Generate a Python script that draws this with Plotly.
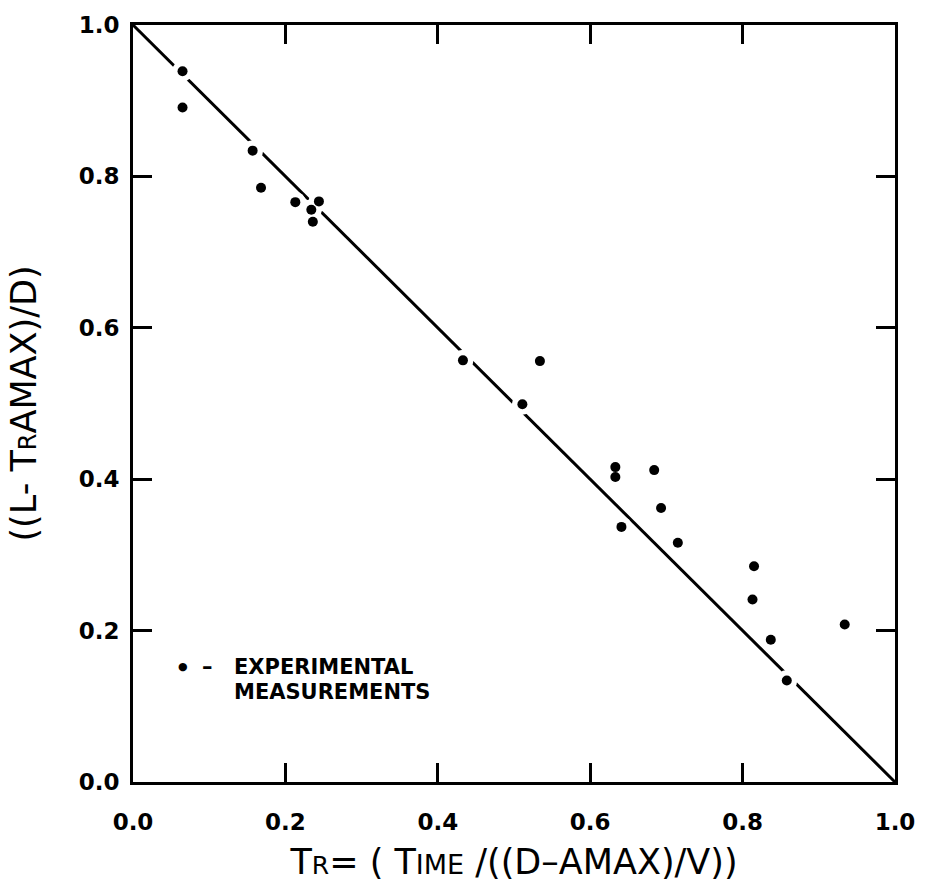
import plotly.graph_objects as go

tr_meas = [0.065, 0.065, 0.157, 0.168, 0.213, 0.234, 0.236, 0.244,
           0.433, 0.511, 0.534, 0.633, 0.633, 0.641, 0.684, 0.693,
           0.715, 0.813, 0.815, 0.837, 0.858, 0.934]
y_meas = [0.939, 0.891, 0.834, 0.785, 0.766, 0.756, 0.740, 0.767,
          0.557, 0.499, 0.556, 0.416, 0.403, 0.337, 0.412, 0.362,
          0.316, 0.241, 0.285, 0.188, 0.134, 0.208]

# Theoretical line
tr_line = [0.0, 1.0]
y_line = [1.0, 0.0]

tick_vals = [0.0, 0.2, 0.4, 0.6, 0.8, 1.0]
tick_text = ["0.0", "0.2", "0.4", "0.6", "0.8", "1.0"]

fig = go.Figure()
fig.add_trace(go.Scatter(x=tr_line, y=y_line, mode="lines",
                         line=dict(color="black", width=3), hoverinfo="skip",
                         showlegend=False))
# white halos to break the line around the points
fig.add_trace(go.Scatter(x=tr_meas, y=y_meas, mode="markers",
                         marker=dict(color="white", size=21, line=dict(width=0)),
                         hoverinfo="skip", showlegend=False))
fig.add_trace(go.Scatter(x=tr_meas, y=y_meas, mode="markers",
                         marker=dict(color="black", size=10, line=dict(width=0)),
                         showlegend=False))

axis_common = dict(
    range=[0, 1], tickvals=tick_vals, ticktext=tick_text,
    showline=True, linecolor="black", linewidth=3, mirror="ticks",
    ticks="inside", ticklen=19, tickwidth=3, tickcolor="black",
    showgrid=False, zeroline=False,
    tickfont=dict(family="DejaVu Sans", size=23, color="black", weight="bold"),
)

title_font = dict(family="DejaVu Sans", size=35, color="black")
fig.update_xaxes(**axis_common, ticklabelstandoff=17,
                 title=dict(text="T<span style='font-size:25px'>R</span>= ( T<span style='font-size:27px'>IME</span> /((D\u2013AMAX)/V))",
                            font=title_font, standoff=16))
fig.update_yaxes(**axis_common, ticklabelstandoff=6,
                 title=dict(text="((L- T<span style='font-size:24px'>R</span>AMAX)/D)",
                            font=title_font, standoff=32))

fig.add_annotation(xref="paper", yref="paper", x=0.065, y=0.152, text="\u25cf",
                   showarrow=False, font=dict(family="DejaVu Sans", size=11, color="black"),
                   xanchor="center", yanchor="middle")
fig.add_annotation(xref="paper", yref="paper", x=0.098, y=0.152, text="\u2013",
                   showarrow=False,
                   font=dict(family="DejaVu Sans", size=21, color="black", weight="bold"),
                   xanchor="center", yanchor="middle")
fig.add_annotation(xref="paper", yref="paper", x=0.130, y=0.136,
                   text="<span style='font-size:21px'>EXPERIMENTAL</span><br><span style='font-size:21px'>MEASUREMENTS</span>",
                   showarrow=False, align="left",
                   font=dict(family="DejaVu Sans", size=19, color="black", weight="bold"),
                   xanchor="left", yanchor="middle")

fig.update_layout(
    width=927, height=890,
    margin=dict(l=133, r=25, t=13, b=108),
    paper_bgcolor="white", plot_bgcolor="white",
    showlegend=False,
)

fig.write_html("out.html")
